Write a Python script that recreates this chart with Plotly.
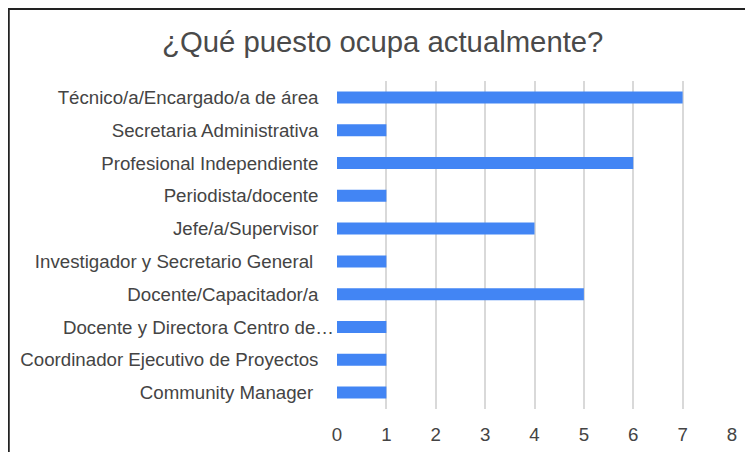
import plotly.graph_objects as go

puestos = [
    "Técnico/a/Encargado/a de área",
    "Secretaria Administrativa",
    "Profesional Independiente",
    "Periodista/docente",
    "Jefe/a/Supervisor",
    "Investigador y Secretario General ",
    "Docente/Capacitador/a",
    "Docente y Directora Centro de…",
    "Coordinador Ejecutivo de Proyectos",
    "Community Manager ",
]
respuestas = [7, 1, 6, 1, 4, 1, 5, 1, 1, 1]
ticks_x = [0, 1, 2, 3, 4, 5, 6, 7, 8]

# etiquetas con relleno de espacios duros para separarlas del eje
def rellenar(txt):
    if txt.endswith("…"):
        return txt
    if txt.endswith(" "):
        return txt.rstrip() + "\u00a0" * 4
    return txt + "\u00a0" * 3

etiquetas = [rellenar(p) for p in puestos]

fig = go.Figure()
fig.add_trace(go.Bar(
    x=respuestas, y=etiquetas, orientation="h",
    marker=dict(color="#4285F4", line=dict(width=0)),
))

# la página deja 8px de margen alrededor de la figura
W, H = 745, 444
L, R, T, B = 329, 21.3, 73, 42.5
pw, ph = W - L - R, H - T - B

fig.add_shape(
    type="rect", xref="paper", yref="paper",
    x0=(1 - L) / pw, x1=(W + 10 - L) / pw,
    y0=-(H + 10 - (H - B)) / ph, y1=((H - B) - 1) / ph,
    line=dict(color="#222222", width=2), fillcolor="rgba(0,0,0,0)",
)

fig.update_layout(
    width=W, height=H,
    margin=dict(l=L, r=R, t=T, b=B, autoexpand=False),
    paper_bgcolor="white", plot_bgcolor="white",
    font=dict(family="Liberation Sans, Arial, sans-serif", size=18.7, color="#444444"),
    title=dict(
        text="¿Qué puesto ocupa actualmente?",
        x=0.503, xanchor="center", y=1 - 34 / H, yanchor="middle",
        font=dict(size=29.3, color="#4a4a4a"),
    ),
    bargap=0.635,
    showlegend=False,
)
fig.update_xaxes(
    range=[0, 8], tickvals=ticks_x, showgrid=True, gridcolor="#d9d9d9", gridwidth=1.5,
    zeroline=False, showline=False, ticks="", ticklabelstandoff=12, automargin=False,
    tickfont=dict(size=18.7, color="#444444"),
)
fig.update_yaxes(
    autorange="reversed", showgrid=False, showline=False, ticks="", automargin=False,
    ticklabelstandoff=2, tickfont=dict(size=18.7, color="#444444"),
)

fig.write_html("out.html")
